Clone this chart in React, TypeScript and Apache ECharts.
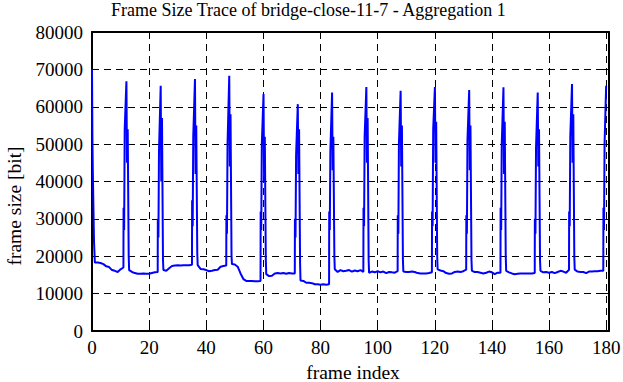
import React, { useEffect, useRef } from "react";
import * as echarts from "echarts";

const chartTitle = "Frame Size Trace of bridge-close-11-7 - Aggregation 1";
const xAxisTitle = "frame index";
const yAxisTitle = "frame size [bit]";

const xTicks = [0, 20, 40, 60, 80, 100, 120, 140, 160, 180];
const yTicks = [0, 10000, 20000, 30000, 40000, 50000, 60000, 70000, 80000];

// sample positions (frame index, with sub-frame detail around the I-frame spikes)
const frameIndex = [
  0, 0.15, 0.3, 0.5, 0.7,
  1, 2, 3, 4, 5, 6, 7, 8, 9, 10, 11,
  11.05, 11.25, 11.45, 12.05, 12.25, 12.5, 12.85,
  13, 14, 15, 16, 17, 18, 19, 20, 21, 22, 23,
  23.05, 23.25, 23.45, 24.05, 24.25, 24.5, 24.85,
  25, 26, 27, 28, 29, 30, 31, 32, 33, 34, 35,
  35.05, 35.25, 35.45, 36.05, 36.25, 36.5, 36.85,
  37, 38, 39, 40, 41, 42, 43, 44, 45, 46, 47,
  47.05, 47.25, 47.45, 48.05, 48.25, 48.5, 48.85,
  49, 50, 51, 52, 53, 54, 55, 56, 57, 58, 59,
  59.05, 59.25, 59.45, 60.05, 60.25, 60.5, 60.85,
  61, 62, 63, 64, 65, 66, 67, 68, 69, 70, 71,
  71.05, 71.25, 71.45, 72.05, 72.25, 72.5, 72.85,
  73, 74, 75, 76, 77, 78, 79, 80, 81, 82, 83,
  83.05, 83.25, 83.45, 84.05, 84.25, 84.5, 84.85,
  85, 86, 87, 88, 89, 90, 91, 92, 93, 94, 95,
  95.05, 95.25, 95.45, 96.05, 96.25, 96.5, 96.85,
  97, 98, 99, 100, 101, 102, 103, 104, 105, 106, 107,
  107.05, 107.25, 107.45, 108.05, 108.25, 108.5, 108.85,
  109, 110, 111, 112, 113, 114, 115, 116, 117, 118, 119,
  119.05, 119.25, 119.45, 120.05, 120.25, 120.5, 120.85,
  121, 122, 123, 124, 125, 126, 127, 128, 129, 130, 131,
  131.05, 131.25, 131.45, 132.05, 132.25, 132.5, 132.85,
  133, 134, 135, 136, 137, 138, 139, 140, 141, 142, 143,
  143.05, 143.25, 143.45, 144.05, 144.25, 144.5, 144.85,
  145, 146, 147, 148, 149, 150, 151, 152, 153, 154, 155,
  155.05, 155.25, 155.45, 156.05, 156.25, 156.5, 156.85,
  157, 158, 159, 160, 161, 162, 163, 164, 165, 166, 167,
  167.05, 167.25, 167.45, 168.05, 168.25, 168.5, 168.85,
  169, 170, 171, 172, 173, 174, 175, 176, 177, 178, 179,
  179.05, 179.25, 179.45, 180,
];

const frameSizeBits = [
  70000, 51000, 42000, 33000, 24000,
  18300, 18300, 18200, 17900, 17300, 17100, 16300, 16100, 15800, 16500, 17000,
  33000, 27000, 54000, 66800, 45000, 54000, 20000,
  16300, 15800, 15500, 15300, 15300, 15400, 15300, 15300, 15500, 15700, 15800,
  30000, 25000, 48000, 65600, 40000, 57000, 19000,
  16300, 16100, 16800, 17400, 17500, 17600, 17500, 17600, 17600, 17600, 17700,
  35000, 28000, 52000, 67400, 42000, 55000, 21000,
  17600, 16600, 16500, 16300, 16000, 16100, 16300, 16400, 17200, 17400, 17500,
  31000, 26000, 50000, 68300, 44000, 58000, 20000,
  17900, 17800, 17200, 15400, 13900, 13400, 13400, 13400, 13300, 13300, 13400,
  32000, 27000, 50000, 63400, 40000, 52000, 19000,
  15200, 14700, 14800, 15400, 15500, 15400, 15500, 15300, 15500, 15400, 15400,
  30000, 25000, 47000, 60700, 42000, 54000, 18000,
  13500, 13400, 12900, 12900, 12800, 12500, 12500, 12400, 12500, 12400, 12500,
  32000, 27000, 48000, 63800, 43000, 52000, 20000,
  16500, 15800, 16300, 16000, 16100, 16300, 15900, 16200, 16000, 16300, 15800,
  33000, 28000, 52000, 65300, 45000, 57000, 19000,
  15600, 15900, 15700, 16000, 15700, 15900, 15500, 15800, 15700, 15600, 16000,
  31000, 26000, 50000, 64300, 44000, 55000, 19000,
  15900, 15800, 15800, 15900, 15800, 15500, 15400, 15400, 15400, 15500, 15700,
  32000, 28000, 54000, 65300, 45000, 56000, 20000,
  16500, 16200, 16000, 15500, 15300, 15400, 15800, 15900, 15800, 16000, 16400,
  31000, 26000, 51000, 64500, 43000, 55000, 19000,
  16100, 15800, 15800, 15600, 15400, 15600, 15900, 15700, 15200, 15600, 15600,
  33000, 27000, 50000, 65200, 42000, 56000, 20000,
  16100, 15700, 15400, 15200, 15300, 15400, 15400, 15400, 15400, 15400, 15500,
  30000, 26000, 49000, 63800, 44000, 54000, 19000,
  16100, 15700, 15800, 15600, 15800, 15500, 15800, 16100, 15900, 15600, 16400,
  32000, 28000, 52000, 66100, 45000, 58000, 20000,
  16400, 15900, 15800, 15800, 15500, 15900, 15900, 16000, 16000, 16100, 16100,
  33000, 27000, 50000, 65600,
];

const FONT = "Liberation Serif";

export default function App() {
  const ref = useRef<HTMLDivElement>(null);

  useEffect(() => {
    if (!ref.current) return;
    const chart = echarts.init(ref.current, undefined, { renderer: "svg" });
    const xMin = xTicks[0];
    const xStep = xTicks[1] - xTicks[0];
    const yMin = yTicks[0];
    const yStep = yTicks[1] - yTicks[0];
    const yMax = yTicks[yTicks.length - 1];
    const xMax = 181;

    const data = frameIndex.map((x, i) => [x, frameSizeBits[i]]);

    const commonAxisLine = { show: true, onZero: false, lineStyle: { color: "#000", width: 2 } };
    const commonTick = { show: true, inside: true, length: 6, lineStyle: { color: "#000", width: 1 } };
    const dashed = { show: true, lineStyle: { color: "#000", width: 1, type: [7, 5] } };

    const baseGraphics: any[] = [
      {
        type: "text",
        left: 111,
        top: 1,
        style: { text: chartTitle, font: "18px 'Liberation Serif'", fill: "#000" },
      },
      {
        type: "text",
        x: 353,
        y: 372,
        style: {
          text: xAxisTitle,
          font: "19.5px 'Liberation Serif'",
          fill: "#000",
          textAlign: "center",
          textVerticalAlign: "middle",
        },
      },
      {
        type: "text",
        x: 14,
        y: 206,
        rotation: Math.PI / 2,
        style: {
          text: yAxisTitle,
          font: "19.5px 'Liberation Serif'",
          fill: "#000",
          textAlign: "center",
          textVerticalAlign: "middle",
        },
      },
    ];

    chart.setOption({
      animation: false,
      backgroundColor: "#fff",
      textStyle: { fontFamily: FONT, color: "#000" },
      grid: { left: 92, right: 14, top: 32, bottom: 51, containLabel: false },
      graphic: baseGraphics,
      xAxis: [
        {
          type: "value",
          min: xMin,
          max: xMax,
          interval: xStep,
          axisLine: commonAxisLine,
          axisTick: commonTick,
          axisLabel: { show: false },
          splitLine: dashed,
        },
        {
          type: "value",
          position: "top",
          min: xMin,
          max: xMax,
          interval: xStep,
          axisLine: commonAxisLine,
          axisTick: commonTick,
          axisLabel: { show: false },
          splitLine: { show: false },
        },
      ],
      yAxis: [
        {
          type: "value",
          min: yMin,
          max: yMax,
          interval: yStep,
          axisLine: commonAxisLine,
          axisTick: commonTick,
          axisLabel: { show: false },
          splitLine: dashed,
        },
        {
          type: "value",
          position: "right",
          min: yMin,
          max: yMax,
          interval: yStep,
          axisLine: commonAxisLine,
          axisTick: commonTick,
          axisLabel: { show: false },
          splitLine: { show: false },
        },
      ],
      series: [
        {
          type: "line",
          xAxisIndex: 0,
          yAxisIndex: 0,
          data,
          showSymbol: false,
          symbol: "none",
          lineStyle: { color: "#0000ff", width: 2 },
          z: 5,
        },
      ],
    });

    // tick labels placed through the axes' own scales
    const yBottom = chart.convertToPixel({ yAxisIndex: 0 }, yMin) as number;
    const xLeft = chart.convertToPixel({ xAxisIndex: 0 }, xMin) as number;
    const tickFont = "19px 'Liberation Serif'";
    const tickLabels: any[] = [];
    xTicks.forEach((v) => {
      const px = chart.convertToPixel({ xAxisIndex: 0 }, v) as number;
      tickLabels.push({
        type: "text",
        x: px,
        y: yBottom + 7,
        style: {
          text: String(v),
          font: tickFont,
          fill: "#000",
          textAlign: "center",
          textVerticalAlign: "top",
        },
      });
    });
    yTicks.forEach((v) => {
      const py = chart.convertToPixel({ yAxisIndex: 0 }, v) as number;
      tickLabels.push({
        type: "text",
        x: xLeft - 9,
        y: py,
        style: {
          text: String(v),
          font: tickFont,
          fill: "#000",
          textAlign: "right",
          textVerticalAlign: "middle",
        },
      });
    });
    chart.setOption({ graphic: [...baseGraphics, ...tickLabels] });

    return () => chart.dispose();
  }, []);

  return (
    <div
      ref={ref}
      style={{ position: "fixed", left: 0, top: 0, width: 623, height: 382, background: "#fff" }}
    />
  );
}
